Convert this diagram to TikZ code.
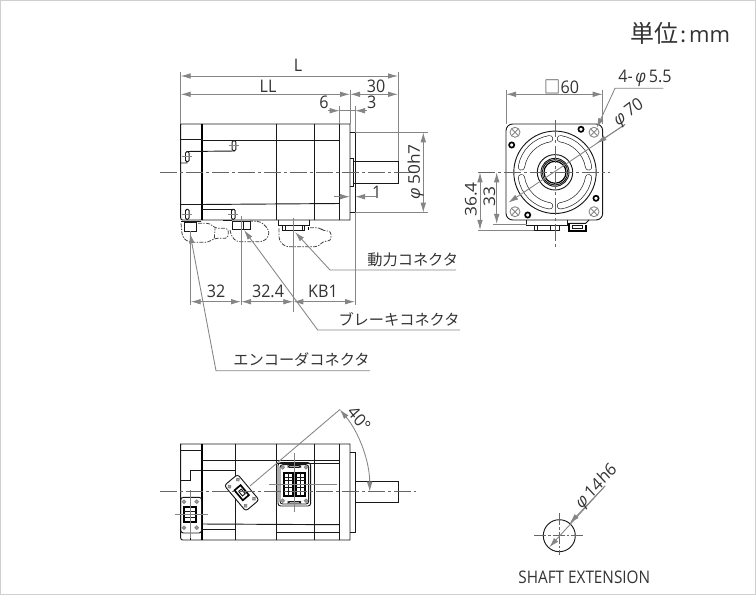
\documentclass[tikz,border=0pt]{standalone}
\usepackage{fontspec}
\setmainfont{Open Sans}
\newfontfamily\cjk{Noto Sans CJK JP}
\usetikzlibrary{arrows.meta}
\definecolor{dimgray}{HTML}{858585}
\definecolor{textgray}{HTML}{333333}
\definecolor{framegray}{HTML}{CFCFCF}
\newcommand{\dia}{\textit{φ}}
\begin{document}
\begin{tikzpicture}[x=0.75pt,y=-0.75pt]
    \tikzstyle{outline} = [draw=black!90, line width=0.7pt]
    \tikzstyle{heavy} = [draw=black, line width=1.25pt]
    \tikzstyle{phantom} = [draw=black!75, line width=0.6pt, dash pattern=on 3pt off 1pt on 1pt off 1pt, rounded corners=2.5pt]
    \tikzstyle{axisline} = [draw=black!60, line width=0.55pt, dash pattern=on 13pt off 2pt on 2.5pt off 2pt]
    \tikzstyle{thinline} = [draw=dimgray, line width=0.65pt]
    \tikzstyle{dimline} = [thinline, {Latex[length=7.5pt,width=4.2pt,color=dimgray]}-{Latex[length=7.5pt,width=4.2pt,color=dimgray]}]
    \tikzstyle{tipline} = [thinline, -{Latex[length=7.5pt,width=4.2pt,color=dimgray]}]
    \tikzstyle{dimtext} = [text=textgray, font=\fontsize{13}{15}\selectfont, inner sep=0pt, xscale=0.93]
    \tikzstyle{jptext} = [text=textgray, font=\cjk\fontsize{11.4}{13}\selectfont, inner sep=0pt]

    \path[use as bounding box] (0,0) rectangle (756,595);
    \draw[framegray, line width=1.1pt] (0.7,0.7) rectangle (755.3,594.3);
    \node[text=textgray, inner sep=0pt, font=\fontsize{16.5}{18}\selectfont] (unit) at (680.5,33) {{\cjk\fontsize{18}{18}\selectfont 単位}\hspace{1.5pt}{\cjk:}\hspace{1.5pt}mm};

    \coordinate (bl) at (180.7,124);
    \coordinate (br) at (350,124);
    \coordinate (pt) at (355,132.3);
    \coordinate (pb) at (355,212.7);
    \coordinate (st) at (398,161);
    \draw[outline] (bl) [rounded corners=1.5pt] -- (180.7,220) [sharp corners] -- (350,220) -- (br) -- cycle;
    \draw[heavy] (201.7,124) -- (201.7,220);
    \draw[outline] (276.7,124) -- (276.7,220);
    \draw[outline] (314.3,124) -- (314.3,220);
    \draw[outline] (339.7,124) -- (339.7,220);
    \draw[outline] (350,132.3) -- (pt) -- (pb) -- (350,212.7);
    \draw[outline] (353,161) -- (st) -- (398,183.3) -- (353,183.3);
    \draw[outline] (350,158) -- (353,158) -- (353,186) -- (350,186);
    \draw[outline] (180.7,139.3) -- (201.7,139.3);
    \draw[outline] (201.7,140.7) -- (339.7,140.7);
    \draw[outline] (180.7,204) -- (201.7,204);
    \draw[outline] (201.7,204.5) -- (339.7,203.5);
    \draw[outline] (201.7,209) -- (235,209);
    \draw[outline] (181,163) -- (187,163) -- (187,151.5) -- (235,151);
    \foreach \sx/\sy in {187.3/156.7, 234/145.7, 187.3/214.3, 233.3/214.3} {
      \draw[outline, fill=white, rounded corners=1pt] (\sx-1.8,\sy-5) rectangle (\sx+1.8,\sy+5);
      \draw[thinline] (\sx-5,\sy) -- (\sx+5,\sy);
    }

    \draw[outline] (180.7,221) -- (201,221);
    \draw[outline] (184.3,222.3) rectangle (196.7,231);
    \draw[phantom] (181,223.3) -- (182.3,236.7) -- (188.3,242.3) -- (208.3,242.3) -- (214.3,238.3) -- (228.3,238.3) -- (228.3,228.3) -- (215,228.3) -- (210,223.3) -- (196.7,223.3);
    \draw[phantom] (214.3,238.3) -- (215,228.3);
    \draw[outline] (223,220.6) -- (232.3,220.6);
    \draw[outline] (232.3,221) rectangle (250,229.3);
    \draw[outline] (243.3,221) -- (243.3,229.3);
    \draw[phantom] (230,230) -- (231.7,236.7) -- (236.7,241.7) -- (263.3,241.7) -- (269.3,235.7) -- (268.3,229) -- (261,221.7) -- (250,221);
    \draw[outline] (278.3,220) -- (278.3,225) -- (309.3,225) -- (309.3,220);
    \draw[outline] (282.3,225.7) rectangle (304.3,230);
    \draw[outline] (285,225.7) -- (285,230);
    \draw[outline] (302.3,225.7) -- (302.3,230);
    \draw[heavy] (308.5,227) -- (308.5,230);
    \draw[phantom] (279,228.3) -- (279,240) -- (285,246.7) -- (318.3,246.7) -- (323.3,241) -- (331,241) -- (331,231) -- (323.3,231) -- (320,227.7) -- (310,227.7);
    \draw[axisline] (160,172) -- (412,172);

    \coordinate (encfoot) at (190.7,301.7);
    \coordinate (brkfoot) at (241,301.7);
    \coordinate (powfoot) at (293.3,301.7);
    \coordinate (endfoot) at (355,301.7);
    \draw[thinline] (180.7,72) -- (bl);
    \draw[thinline] (398,72) -- (st);
    \draw[thinline] (350,90) -- (br);
    \draw[thinline] (339.7,106) -- (339.7,124);
    \draw[thinline] (355,106) -- (pt);
    \draw[thinline] (pt) -- (428,132.3);
    \draw[thinline] (pb) -- (428,212.7);
    \draw[thinline] (pb) -- (355,305);
    \draw[thinline] (190.7,231) -- (190.7,305);
    \draw[thinline] (241,216) -- (241,305);
    \draw[thinline] (293.3,218) -- (293.3,312);
    \draw[dimline] (180.7,76) -- (398,76);
    \draw[dimline] (180.7,94.3) -- (350,94.3);
    \draw[dimline] (350,94.3) -- (398,94.3);
    \draw[tipline] (328,110.7) -- (339.7,110.7);
    \draw[thinline] (339.7,110.7) -- (355,110.7);
    \draw[tipline] (367,110.7) -- (355,110.7);
    \draw[tipline] (334,196.7) -- (350,196.7);
    \draw[tipline] (376,196.7) -- (355,196.7);
    \draw[dimline] (423.3,132.3) -- (423.3,212.7);
    \draw[dimline] (encfoot) -- (brkfoot);
    \draw[dimline] (brkfoot) -- (powfoot);
    \draw[dimline] (powfoot) -- (endfoot);
    \node[dimtext] (lenl) at (298,65) {L};
    \node[dimtext] (lenll) at (268,86.5) {LL};
    \node[dimtext] (lenshaft) at (376,86) {30};
    \node[dimtext] (lensix) at (324,102.7) {6};
    \node[dimtext] (lenthree) at (371.7,102.7) {3};
    \node[dimtext] (lenone) at (376.7,192) {1};
    \node[dimtext, rotate=90] (diapilot) at (415.7,171.7) {\dia\,50h7};
    \node[dimtext] (pitchone) at (216,291) {32};
    \node[dimtext] (pitchtwo) at (268,291) {32.4};
    \node[dimtext] (pitchkb) at (323,291) {KB1};

    \node[jptext] (powerlabel) at (412.7,259.5) {動力コネクタ};
    \node[jptext] (brakelabel) at (399,319) {ブレーキコネクタ};
    \node[jptext] (encoderlabel) at (301.5,360) {エンコーダコネクタ};
    \coordinate (powerend) at (456,270);
    \coordinate (powerelbow) at (330,270);
    \coordinate (powertip) at (295,232);
    \coordinate (brakeend) at (460,330);
    \coordinate (brakeelbow) at (317.7,330);
    \coordinate (braketip) at (244,230);
    \coordinate (encoderend) at (370,370.7);
    \coordinate (encoderelbow) at (216,370.7);
    \coordinate (encodertip) at (190,233.3);
    \draw[tipline] (powerend) -- (powerelbow) -- (powertip);
    \draw[tipline] (brakeend) -- (brakeelbow) -- (braketip);
    \draw[tipline] (encoderend) -- (encoderelbow) -- (encodertip);

    \coordinate (fc) at (555,172.3);
    \draw[outline, rounded corners=5pt] (506,124) rectangle (602.7,220);
    \draw[thinline] (506,90) -- (506,124);
    \draw[thinline] (602.7,90) -- (602.7,124);
    \draw[dimline] (506,94.3) -- (602.7,94.3);
    \node[dimtext] (side) at (561.7,86.7) {{\cjk □}60};
    \draw[outline] (fc) circle[radius=41.2];
    \foreach \sa in {0,90,180,270} {
      \draw[black!85, line width=5.2pt, line cap=round] (fc) ++(\sa+9:25.5pt) arc[start angle=\sa+9, end angle=\sa+81, radius=25.5pt];
      \draw[white, line width=4.2pt, line cap=round] (fc) ++(\sa+9:25.5pt) arc[start angle=\sa+9, end angle=\sa+81, radius=25.5pt];
    }
    \draw[outline] (fc) circle[radius=17.7];
    \draw[outline] (fc) circle[radius=14];
    \draw[outline] (fc) circle[radius=12.7];
    \draw[draw=black, line width=0.9pt] (fc) circle[radius=11];
    \foreach \hx/\hy in {515/132.3, 594/132.3, 515/211.7, 594/211.7} {
      \draw[thinline] (\hx,\hy) circle[radius=5];
      \draw[thinline] (\hx-3.5,\hy-3.5) -- (\hx+3.5,\hy+3.5);
      \draw[thinline] (\hx-3.5,\hy+3.5) -- (\hx+3.5,\hy-3.5);
    }
    \foreach \hx/\hy in {581/129.3, 511.7/145, 596/198.3, 527.7/215} {
      \draw[heavy] (\hx,\hy) circle[radius=2.6];
    }
    \draw[outline] (526.7,220) -- (526.7,225) -- (567.7,225) -- (567.7,220);
    \draw[outline] (534.3,225) rectangle (559.3,230);
    \draw[outline] (537.5,225) -- (537.5,230);
    \draw[outline] (550,225) -- (550,230);
    \draw[heavy] (569,223.3) -- (569,230.7) -- (585.7,230.7) -- (585.7,225);
    \draw[outline] (572.7,225) rectangle (582.3,228.3);
    \draw[outline] (569,223.3) -- (585.7,223.3) -- (589,220);
    \draw[axisline] (478,172.3) -- (610,172.3);
    \draw[axisline] (fc |- 0,120) -- (fc |- 0,247);
    \draw[thinline] (478,230) -- (534.3,230);
    \draw[thinline] (493,224) -- (526.7,224);
    \draw[dimline] (480,172.3) -- (480,230);
    \draw[dimline] (496.7,172.3) -- (496.7,224);
    \node[dimtext, rotate=90] (highfour) at (471,199.3) {36.4};
    \node[dimtext, rotate=90] (highthree) at (489.3,196.7) {33};
    \coordinate (pcdtipa) at (508.3,202.7);
    \coordinate (pcdtipb) at (596.7,143.3);
    \coordinate (pcdend) at (625,124.5);
    \draw[tipline] (pcdend) -- (pcdtipa);
    \draw[tipline] (pcdend) -- (pcdtipb);
    \node[dimtext, rotate=35] (pcdlabel) at (629,113) {\dia\,70};
    \node[dimtext] (holelabel) at (645,78.3) {4-\,\dia\,5.5};
    \coordinate (holeend) at (663.3,88.3);
    \coordinate (holeelbow) at (615,88.3);
    \coordinate (holetip) at (596.7,128);
    \draw[tipline] (holeend) -- (holeelbow) -- (holetip);

    \coordinate (ul) at (180.7,444);
    \coordinate (ur) at (350,444);
    \draw[outline] (ul) [rounded corners=1.5pt] -- (180.7,540) [sharp corners] -- (350,540) -- (ur) -- cycle;
    \draw[heavy] (201.7,444) -- (201.7,540);
    \draw[outline] (235,444) -- (235,540);
    \draw[outline] (276.7,444) -- (276.7,540);
    \draw[outline] (314.3,444) -- (314.3,540);
    \draw[outline] (339.3,444) -- (339.3,540);
    \draw[outline] (350,452) -- (355,452) -- (355,532) -- (350,532);
    \draw[outline] (355,481) -- (398,481) -- (398,502.7) -- (355,502.7);
    \draw[outline] (180.7,450) -- (201.7,450);
    \draw[outline] (201.7,460) -- (235,460);
    \draw[outline] (235,460) -- (339.3,460);
    \draw[outline] (276.7,463) -- (339.3,463);
    \draw[outline] (201.7,524) -- (339.3,524.7);
    \draw[outline] (201.7,529.3) -- (235,529.3);
    \draw[outline] (276.7,532) -- (339.3,532);
    \draw[outline] (180.7,480) -- (190,480) -- (190,470.7) -- (235,470.7);
    \draw[outline] (190.3,533) -- (190.3,540);
    \draw[outline, rounded corners=2pt] (180.7,497.3) rectangle (201.7,533);
    \draw[heavy] (184.3,506.7) rectangle (195.7,522.3);
    \draw[outline] (190,506.7) -- (190,522.3);
    \draw[outline] (184.3,511.5) -- (195.7,511.5);
    \draw[outline] (184.3,517.5) -- (195.7,517.5);
    \foreach \hx/\hy in {184/501.7, 196.7/501.7, 184/527.7, 196.7/527.7} {
      \draw[thinline, fill=black!35] (\hx,\hy) circle[radius=1.8];
    }
    \draw[thinline] (175,514.3) -- (208.3,514.3);
    \draw[thinline] (190.3,490) -- (190.3,538);

    \begin{scope}[shift={(241.7,492.7)}, rotate=40]
      \draw[outline, fill=white, rounded corners=2pt] (-8.7,-16.7) rectangle (8.7,16.7);
      \draw[heavy] (-4,-6.5) rectangle (4,6.5);
      \draw[outline] (-1.5,-3) rectangle (2,3);
      \foreach \hu/\hv in {-5.5/-12.5, 5.5/-12.5, -5.5/12.5, 5.5/12.5} {
        \draw[thinline, fill=black!35] (\hu,\hv) circle[radius=1.7];
      }
    \end{scope}

    \draw[outline, rounded corners=2pt] (278,462.7) rectangle (310.7,506);
    \draw[outline, rounded corners=2pt] (280,464.7) rectangle (308.7,504);
    \draw[outline, rounded corners=1pt] (288,465.7) rectangle (300.7,467.3);
    \draw[outline, rounded corners=1pt] (288,501.5) rectangle (300.7,503);
    \foreach \col in {284,296} {
      \draw[heavy] (\col,473.3) rectangle (\col+9,495.7);
      \draw[outline] (\col+4.5,473.3) -- (\col+4.5,495.7);
      \foreach \row in {477,480.5,484,487.5,491} {
        \draw[outline] (\col,\row) -- (\col+9,\row);
      }
    }
    \foreach \hx/\hy in {282.7/467.3, 306/467.3, 282.7/500.7, 306/500.7} {
      \draw[thinline, fill=black!35] (\hx,\hy) circle[radius=1.8];
    }
    \draw[thinline] (269.3,484.3) -- (336.7,484.3);
    \draw[thinline] (294,453.3) -- (294,511.7);
    \draw[axisline] (160,491.7) -- (416,491.7);

    \coordinate (platec) at (241.7,491.7);
    \coordinate (platefoot) at (250,486);
    \coordinate (anglea) at (340,409.4);
    \draw[thinline] (platefoot) -- (anglea);
    \draw[dimline] (platec) ++(0:96pt) arc[start angle=0, end angle=40, radius=96pt];
    \node[dimtext, rotate=-50] (anglelabel) at (359.3,419) {40°};

    \coordinate (sc) at (559.3,535.7);
    \coordinate (shafttipa) at (549.3,547.3);
    \coordinate (shafttipb) at (569.7,523.3);
    \coordinate (shaftend) at (605,486);
    \draw[outline] (sc) circle[radius=16];
    \draw[axisline, dash pattern=on 9pt off 1.5pt on 2pt off 1.5pt] (534,535.7) -- (583,535.7);
    \draw[axisline, dash pattern=on 9pt off 1.5pt on 2pt off 1.5pt] (sc |- 0,513) -- (sc |- 0,555);
    \draw[tipline] (shaftend) -- (shafttipa);
    \draw[tipline] (shaftend) -- (shafttipb);
    \node[dimtext, rotate=45] (shaftlabel) at (596.7,486.7) {\dia\,14h6};
    \node[dimtext, xscale=0.95] (shaftname) at (584.3,577.3) {SHAFT EXTENSION};
\end{tikzpicture}
\end{document}
